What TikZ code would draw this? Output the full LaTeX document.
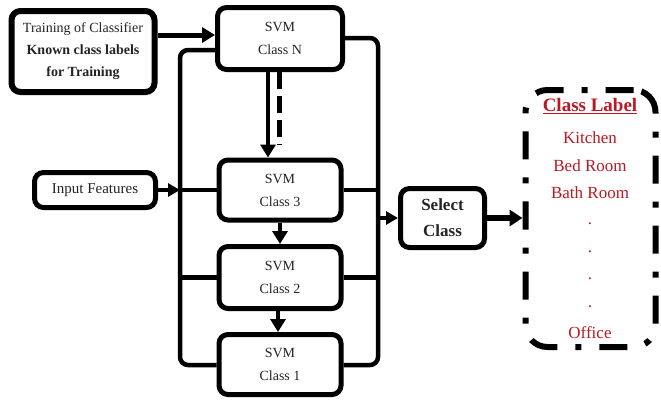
\documentclass[tikz,border=0pt]{standalone}
\usepackage{fontspec}
\setmainfont{Liberation Serif}
\usetikzlibrary{arrows.meta,calc}
\definecolor{lblred}{RGB}{185,25,35}
\definecolor{txt}{RGB}{35,35,35}
\begin{document}
\begin{tikzpicture}[x=1pt,y=-1pt,
  box/.style={draw, line width=5pt, rounded corners=9pt, align=center, inner sep=0pt, text=txt},
  svm/.style={box, minimum width=122pt, minimum height=60pt, font=\fontsize{14}{23}\selectfont},
  bus/.style={line width=4.5pt},
  arr/.style={line width=4.5pt, -{Triangle[width=15pt,length=13pt]}},
  lbl/.style={text=lblred, font=\fontsize{17}{20}\selectfont, inner sep=0pt}
]
\useasboundingbox (0,0) rectangle (661,400);

% boxes
\node[box, line width=6pt, minimum width=143pt, minimum height=81pt, font=\fontsize{14}{22}\selectfont] (train) at (83,51.5)
  {Training of Classifier\\\textbf{Known class labels}\\\textbf{for Training}};
\node[svm, minimum width=125pt, minimum height=62pt] (svmN) at (280,38.5) {SVM\\Class N};
\node[svm] (svm3) at (280,190) {SVM\\Class 3};
\node[svm, minimum height=62pt] (svm2) at (280,277.5) {SVM\\Class 2};
\node[svm] (svm1) at (280,364.5) {SVM\\Class 1};
\node[box, minimum width=121pt, minimum height=35pt, font=\fontsize{15}{18}\selectfont] (input) at (95,190) {Input Features};
\node[box, minimum width=84pt, minimum height=59pt, font=\fontsize{17}{26}\selectfont\bfseries] (select) at (442.5,218) {Select\\Class};

% class label box
\node[draw, line width=6pt, rounded corners=22pt, dash pattern=on 28pt off 18pt on 6pt off 18pt,
      minimum width=130pt, minimum height=257pt] (lblbox) at (590.5,218.5) {};
\node[lbl, font=\fontsize{19}{22}\selectfont\bfseries] (l0) at (590,106) {\underline{Class Label}};
\node[lbl] (l1) at (590,138) {Kitchen};
\node[lbl] (l2) at (590,166) {Bed Room};
\node[lbl] (l3) at (590,193) {Bath Room};
\node[lbl] (d1) at (590,224) {.};
\node[lbl] (d2) at (590,252) {.};
\node[lbl] (d3) at (590,279) {.};
\node[lbl] (d4) at (590,307) {.};
\node[lbl] (l4) at (590,333) {Office};

% bus coordinates
\coordinate (lt) at (180,50);
\coordinate (lb) at (180,365);
\coordinate (rt) at (378,38);
\coordinate (rb) at (378,365);

% buses
\draw[bus, rounded corners=8pt] (svmN.west |- lt) -- (lt) -- (lb) -- (svm1.west |- lb);
\draw[bus, rounded corners=8pt] (svmN.east |- rt) -- (rt) -- (rb) -- (svm1.east |- rb);
\draw[bus] (lt |- svm3.west) -- (svm3.west);
\draw[bus] (svm3.east) -- (rt |- svm3.east);
\draw[bus] (lt |- svm2.west) -- (svm2.west);
\draw[bus] (svm2.east) -- (rt |- svm2.east);

% arrows
\draw[arr, line width=5pt] (train.east |- 0,35) -- (svmN.west |- 0,35);
\draw[arr, -{Triangle[width=13pt,length=12pt]}] (input.east) -- (lt |- input.east);
\draw[arr, line width=4pt] (svmN.south -| 268,0) -- (svm3.north -| 268,0);
\draw[line width=5pt, dash pattern=on 17pt off 7pt] (svmN.south -| 279,0) -- (279,145);
\draw[arr, line width=4pt] (svm3.south) -- (svm2.north);
\draw[arr, line width=4pt] (svm2.south -| 278,0) -- (svm1.north -| 278,0);
\draw[arr, -{Triangle[width=13pt,length=12pt]}] (rt |- select.west) -- (select.west);
\draw[arr, line width=6pt, -{Triangle[width=16pt,length=13pt]}] (select.east) -- (lblbox.west |- select.east);
\end{tikzpicture}
\end{document}
